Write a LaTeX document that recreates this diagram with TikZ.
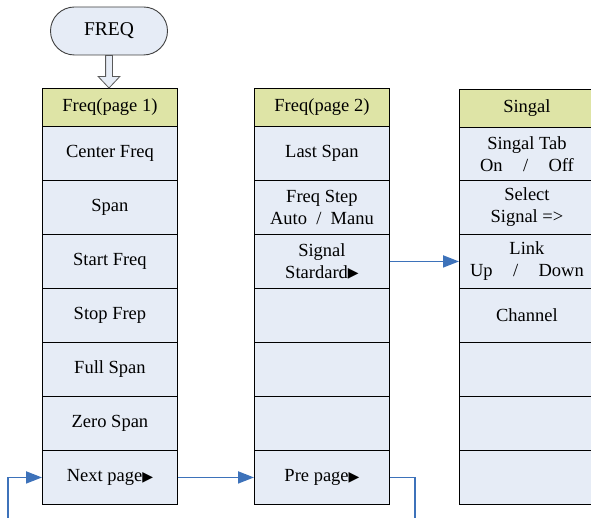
\documentclass[tikz,border=0pt]{standalone}
\usepackage{fontspec}
\setmainfont{Liberation Serif}
\newfontfamily\symf{DejaVu Sans}
\usetikzlibrary{arrows.meta,calc,shapes.misc}
\definecolor{hdr}{RGB}{222,228,166}
\definecolor{cellc}{RGB}{230,236,246}
\definecolor{lnk}{RGB}{61,114,186}
\newcommand{\trg}{\raisebox{0.3pt}{\symf\fontsize{14}{14}\selectfont ▶}}
\begin{document}
\begin{tikzpicture}[x=1pt,y=-1pt,font=\fontsize{18.5}{22}\selectfont,
  cellbox/.style={draw=black,line width=0.9pt,fill=cellc,minimum width=135pt,minimum height=54pt,inner sep=0pt,align=center,anchor=north west},
  hdrbox/.style={cellbox,fill=hdr,minimum height=38pt},
  link/.style={draw=lnk,line width=1.8pt},
  tip/.style={-{Triangle[length=16pt,width=12pt]}},
  termbox/.style={rounded rectangle,draw=black!75,line width=0.9pt,fill=cellc,minimum width=117pt,minimum height=48pt,inner sep=0pt,font=\fontsize{19.5}{22}\selectfont}]
\useasboundingbox (0,0) rectangle (591,518);
% terminator
\node[termbox] (freq) at (109,31) {FREQ};
% column 1
\node[hdrbox] (a0) at (42,88) {Freq(page 1)};
\node[cellbox] (a1) at (42,126) {Center Freq};
\node[cellbox] (a2) at (42,180) {Span};
\node[cellbox] (a3) at (42,234) {Start Freq};
\node[cellbox] (a4) at (42,288) {Stop Frep};
\node[cellbox] (a5) at (42,342) {Full Span};
\node[cellbox] (a6) at (42,396) {Zero Span};
\node[cellbox] (a7) at (42,450) {Next page\trg};
% column 2
\node[hdrbox] (b0) at (254,88) {Freq(page 2)};
\node[cellbox] (b1) at (254,126) {Last Span};
\node[cellbox] (b2) at (254,180) {Freq Step\\Auto\hspace{0.5em}/\hspace{0.5em}Manu};
\node[cellbox] (b3) at (254,234) {Signal\\Stardard\trg};
\node[cellbox] (b4) at (254,288) {};
\node[cellbox] (b5) at (254,342) {};
\node[cellbox] (b6) at (254,396) {};
\node[cellbox] (b7) at (254,450) {Pre page\trg};
% column 3
\node[hdrbox] (c0) at (459,89) {Singal};
\node[cellbox] (c1) at (459,127) {Singal Tab\\On\hspace{1.1em}/\hspace{1.1em}Off};
\node[cellbox] (c2) at (459,180) {Select\\Signal =>};
\node[cellbox] (c3) at (459,234) {Link\\Up\hspace{1.1em}/\hspace{1.1em}Down};
\node[cellbox] (c4) at (459,288) {Channel};
\node[cellbox] (c5) at (459,342) {};
\node[cellbox] (c6) at (459,396) {};
\node[cellbox] (c7) at (459,450) {};
% hollow arrow
\draw[fill=cellc,draw=black!65,line width=0.8pt]
  ($(freq.south)+(-3.4,0)$) -- ++(0,21) -- ++(-7.5,0) -- (freq.south |- a0.north)
  -- ($(freq.south)+(10.9,21)$) -- ++(-7.5,0) -- ++(0,-21) -- cycle;
% connectors
\draw[link,tip] (a7.east) -- (b7.west);
\draw[link,tip] (b3.east) -- (b3.east -| c3.west);
\coordinate (pr) at (415,518);
\draw[link] (b7.east) -| (pr);
\coordinate (pl) at (8,518);
\draw[link,tip] (pl) |- (a7.west);
\end{tikzpicture}
\end{document}
